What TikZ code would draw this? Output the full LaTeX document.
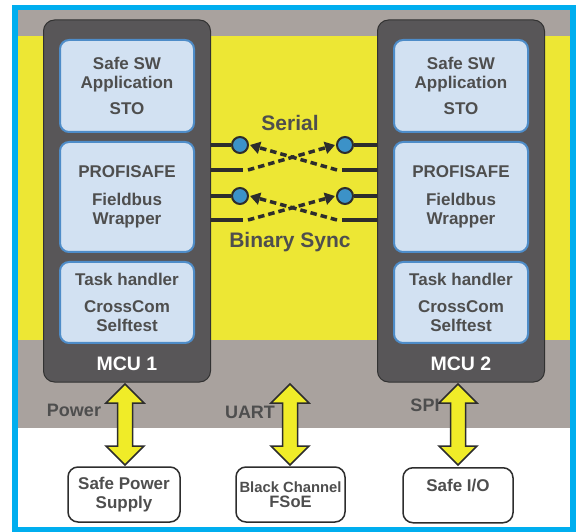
\documentclass[tikz,border=0pt]{standalone}
\usepackage{fontspec}
\setmainfont{Liberation Sans}
\usetikzlibrary{arrows.meta,calc}
\definecolor{cyanb}{RGB}{0,174,239}
\definecolor{ylw}{RGB}{237,231,52}
\definecolor{band}{RGB}{169,162,158}
\definecolor{mcu}{RGB}{88,86,88}
\definecolor{mcuedge}{RGB}{50,50,50}
\definecolor{lblue}{RGB}{210,225,242}
\definecolor{bedge}{RGB}{78,140,200}
\definecolor{txt}{RGB}{78,78,78}
\definecolor{dotc}{RGB}{60,146,200}
\definecolor{ink}{RGB}{45,45,45}
\definecolor{arrowy}{RGB}{240,236,40}
\newcommand\bxfont{\bfseries\fontsize{17}{19}\selectfont}
\newcommand\bigdarrow[4]{%
  \coordinate (#4t) at (#1,#2);
  \coordinate (#4b) at (#1,#3);
  \draw[bigarrow] (#4t) -- ++(19,19) -- ++(-11.5,0) -- (#1+7.5,#3-19) -- (#1+19,#3-19)
     -- (#4b) -- (#1-19,#3-19) -- (#1-7.5,#3-19) -- (#1-7.5,#2+19) -- (#1-19,#2+19) -- cycle;}
\tikzset{
  mcubox/.style={draw=mcuedge, line width=1pt, fill=mcu, rounded corners=11pt,
    minimum width=167pt, minimum height=362pt, inner sep=0pt},
  swbox/.style={draw=bedge, line width=2pt, fill=lblue, rounded corners=9pt,
    minimum width=134pt, inner sep=0pt, align=center, text=txt, font=\bxfont},
  mculabel/.style={text=white, font=\bfseries\fontsize{19.5}{22}\selectfont},
  sig/.style={circle, draw=ink, line width=2pt, fill=dotc, minimum size=16pt, inner sep=0pt},
  wire/.style={draw=ink, line width=3.5pt},
  dashwire/.style={draw=ink, line width=3.5pt, dash pattern=on 6.5pt off 4pt,
    -{Triangle[length=10pt,width=12pt]}},
  midlabel/.style={text=txt, font=\bfseries\fontsize{21}{24}\selectfont},
  buslabel/.style={text=txt, font=\bfseries\fontsize{18}{20}\selectfont},
  bigarrow/.style={draw=ink, line width=1.5pt, fill=arrowy, line join=miter},
  periph/.style={draw=ink, line width=1.5pt, fill=white, rounded corners=10pt,
    minimum width=110pt, minimum height=55pt, inner sep=0pt, align=center, text=txt},
}
\begin{document}
\begin{tikzpicture}[x=1pt,y=-1pt]
\useasboundingbox (0,0) rectangle (582,532);
% backgrounds
\fill[white] (0,0) rectangle (582,532);
\fill[band] (18,10) rectangle (570,36);
\fill[ylw] (18,36) rectangle (570,340);
\fill[band] (18,340) rectangle (570,428);
\draw[cyanb, line width=5.5pt] (15,7.5) rectangle (573,529.5);

% MCUs
\node[mcubox] (mcu1) at (127,201) {};
\node[mcubox] (mcu2) at (461,201) {};

\node[swbox, minimum height=92pt] (app1) at (127,86) {Safe SW\\Application\\[7pt]STO};
\node[swbox, minimum height=110pt] (pro1) at (127,197) {PROFISAFE\\[9pt]Fieldbus\\Wrapper};
\node[swbox, minimum height=81pt] (task1) at (127,302.5) {Task handler\\[8pt]CrossCom\\Selftest};
\node[mculabel] (lab1) at (127,364) {MCU 1};

\node[swbox, minimum height=92pt] (app2) at (461,86) {Safe SW\\Application\\[7pt]STO};
\node[swbox, minimum height=110pt] (pro2) at (461,197) {PROFISAFE\\[9pt]Fieldbus\\Wrapper};
\node[swbox, minimum height=81pt] (task2) at (461,302.5) {Task handler\\[8pt]CrossCom\\Selftest};
\node[mculabel] (lab2) at (461,364) {MCU 2};

% signal lines
\node[midlabel] (serial) at (290,123) {Serial};
\node[midlabel] (bsync) at (290,242) {Binary Sync};

\node[sig] (l1) at (240,145) {};
\node[sig] (r1) at (345,145) {};
\node[sig] (l2) at (240,196) {};
\node[sig] (r2) at (345,196) {};
\coordinate (l1b) at (243,170);
\coordinate (r1b) at (342,170);
\coordinate (l2b) at (243,220);
\coordinate (r2b) at (342,220);

\draw[wire] (mcu1.east |- l1) -- (l1);
\draw[wire] (mcu1.east |- l1b) -- (l1b);
\draw[wire] (mcu1.east |- l2) -- (l2);
\draw[wire] (mcu1.east |- l2b) -- (l2b);
\draw[wire] (r1) -- (mcu2.west |- r1);
\draw[wire] (r1b) -- (mcu2.west |- r1b);
\draw[wire] (r2) -- (mcu2.west |- r2);
\draw[wire] (r2b) -- (mcu2.west |- r2b);

\draw[dashwire] ($(l1b)+(5,0)$) -- ($(r1.west)+(-1,0)$);
\draw[dashwire] ($(r1b)+(-5,0)$) -- ($(l1.east)+(1,0)$);
\draw[dashwire] ($(l2b)+(5,0)$) -- ($(r2.west)+(-1,0)$);
\draw[dashwire] ($(r2b)+(-5,0)$) -- ($(l2.east)+(1,0)$);

% peripherals
\node[periph, minimum width=112pt, font=\bfseries\fontsize{17}{19}\selectfont] (psu) at (124,494.5) {Safe Power\\Supply};
\node[periph, minimum width=109pt] (fsoe) at (290.5,494.5) {{\bfseries\fontsize{14.8}{16}\selectfont Black Channel}\\[3pt]{\bfseries\fontsize{16.5}{18}\selectfont FSoE}};
\node[periph, minimum width=110pt, anchor=north] (sio) at (458,467) {};
\node[text=txt, font=\bfseries\fontsize{17}{19}\selectfont] (siot) at (458,486) {Safe I/O};

% big arrows
\bigdarrow{125}{384}{465}{pa}
\bigdarrow{290}{384}{465}{ua}
\bigdarrow{458}{384}{465}{sa}

\node[buslabel] (power) at (74,410) {Power};
\node[buslabel] (uart) at (250,412) {UART};
\node[buslabel] (spi) at (425,405) {SPI};
\end{tikzpicture}
\end{document}
